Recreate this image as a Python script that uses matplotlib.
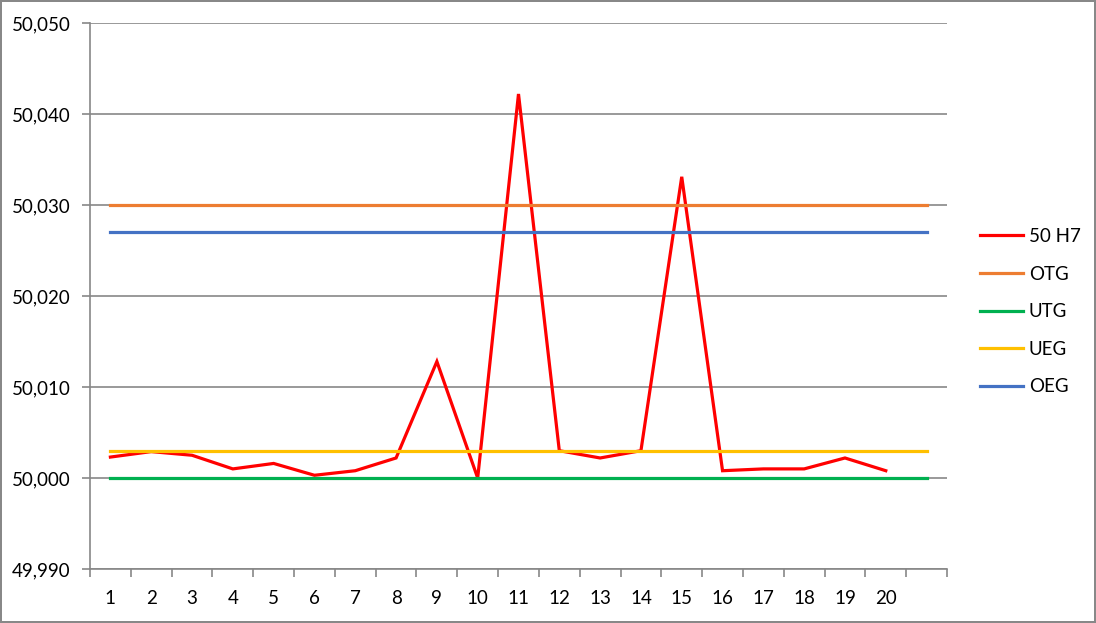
import numpy as np
import matplotlib
matplotlib.use('Agg')
import matplotlib.pyplot as plt
from matplotlib.ticker import FuncFormatter, FixedLocator

plt.rcParams['font.family'] = ['Lato', 'DejaVu Sans']

# data
kategorien = list(range(1, 22))          # 21 categories, the last one has no label
tick_labels = [str(i) for i in range(1, 21)] + ['']
messwerte = [50.0023, 50.0029, 50.0025, 50.0010, 50.0016, 50.0003, 50.0008, 50.0022,
             50.0128, 50.0000, 50.0422, 50.0030, 50.0022, 50.0030, 50.0331, 50.0008,
             50.0010, 50.0010, 50.0022, 50.0008]
otg = [50.030] * 21
utg = [50.000] * 21
ueg = [50.003] * 21
oeg = [50.027] * 21

reihen = [
    ('50 H7', messwerte, '#FF0000'),
    ('OTG', otg, '#ED7D31'),
    ('UTG', utg, '#00B050'),
    ('UEG', ueg, '#FFC000'),
    ('OEG', oeg, '#4472C4'),
]

W, H = 1096, 623
fig = plt.figure(figsize=(W / 100, H / 100), dpi=100)
fig.patch.set_edgecolor('#888888')
fig.patch.set_linewidth(1.5)

ax = fig.add_axes([90 / W, 1 - 569 / H, (947 - 90) / W, (569 - 23) / H])

for i, (name, werte, farbe) in enumerate(reihen):
    x = kategorien[:len(werte)]
    ax.plot(x, werte, color=farbe, lw=2.3, label=name, zorder=3 + i,
            solid_joinstyle='miter')

ax.set_xlim(0.5, 21.5)
ax.set_ylim(49.990, 50.050)
ax.set_yticks(np.arange(49.990, 50.0501, 0.010))
ax.yaxis.set_major_formatter(FuncFormatter(lambda v, p: ('%.3f' % v).replace('.', ',')))
ax.grid(axis='y', color='#878787', lw=1.2, zorder=1)

ax.set_xticks(kategorien)
ax.set_xticklabels(tick_labels)
ax.xaxis.set_minor_locator(FixedLocator(np.arange(0.5, 21.6, 1)))
ax.tick_params(axis='x', which='major', length=0, pad=15, labelsize=13.5, colors='#000000')
ax.tick_params(axis='x', which='minor', length=6, width=1.2, color='#878787', direction='out')
ax.tick_params(axis='y', length=6, width=1.2, color='#878787', pad=8, labelsize=13.5)

for s in ['top', 'right']:
    ax.spines[s].set_visible(False)
for s in ['left', 'bottom']:
    ax.spines[s].set_color('#878787')
    ax.spines[s].set_linewidth(1.2)

fig.legend(loc='upper left', bbox_to_anchor=(963 / W, 1 - 211 / H), frameon=False,
           fontsize=13.5, handlelength=2.3, handletextpad=0.3, labelspacing=1.1)

fig.savefig('out.png', dpi=100)
